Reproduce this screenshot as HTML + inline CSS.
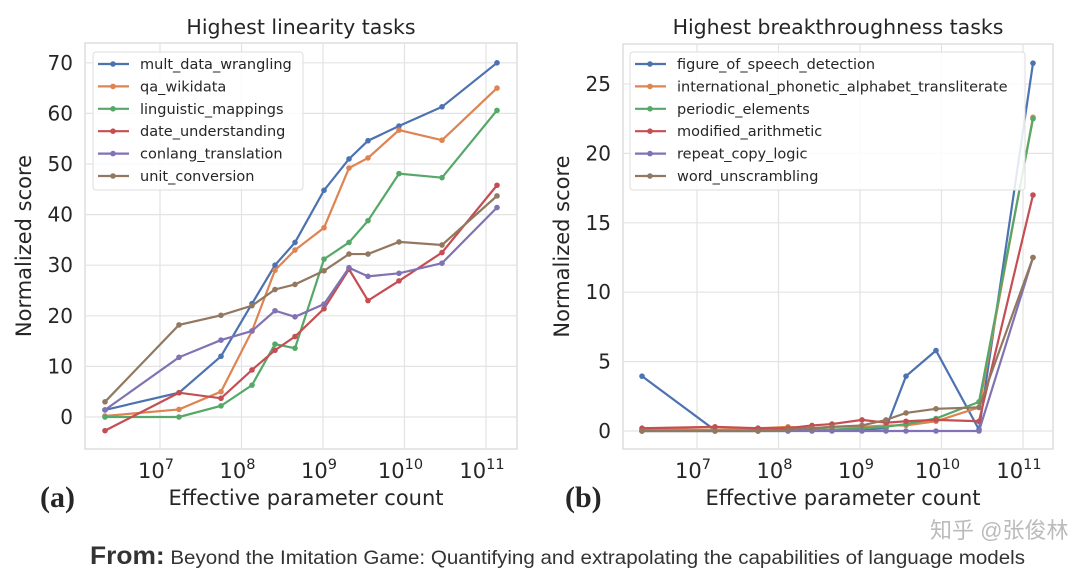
<!DOCTYPE html>
<html><head><meta charset="utf-8"><style>
body{margin:0;background:#fff;width:1080px;height:575px;overflow:hidden}
svg text{font-family:"DejaVu Sans","Liberation Sans",sans-serif;fill:#262626}
</style></head><body>
<svg id="s" width="1080" height="575" xmlns="http://www.w3.org/2000/svg"></svg>
<script>
const C=["#4c72b0","#dd8452","#55a868","#c44e52","#8172b3","#937860"];
let h='';
function T(x,y,t,sz,anc,extra){h+=`<text x="${x}" y="${y}" font-size="${sz}" text-anchor="${anc||'start'}" ${extra||''}>${t}</text>`;}
function panel(o){
 h+=`<rect x="${o.x0}" y="${o.y0}" width="${o.x1-o.x0}" height="${o.y1-o.y0}" fill="#fff" stroke="#d6d6d6" stroke-width="1.2"/>`;
 for(let d=7;d<=11;d++){const x=o.dx(d);h+=`<line x1="${x}" x2="${x}" y1="${o.y0}" y2="${o.y1}" stroke="#e3e3e3" stroke-width="1.2"/>`;
  h+=`<text x="${x-4}" y="${o.y1+29}" font-size="21" text-anchor="middle">10<tspan dy="-9" font-size="14.5">${d}</tspan></text>`;}
 o.yt.forEach(v=>{const y=o.vy(v);h+=`<line x1="${o.x0}" x2="${o.x1}" y1="${y}" y2="${y}" stroke="#e3e3e3" stroke-width="1.2"/>`;T(o.x0-12,y+7,v,20,'end');});
 o.data.forEach((d,i)=>{const p=d.map((v,j)=>[o.px[j],o.vy(v)]);
  h+=`<polyline fill="none" stroke="${C[i]}" stroke-width="2.2" points="${p.map(q=>q.join(',')).join(' ')}"/>`;
  p.forEach(q=>h+=`<circle cx="${q[0]}" cy="${q[1]}" r="2.8" fill="${C[i]}"/>`);});
 h+=`<rect x="${o.lx}" y="52" width="${o.lw}" height="138" rx="3" fill="#fff" fill-opacity="0.85" stroke="#ddd"/>`;
 o.names.forEach((n,i)=>{const y=64+i*22.4;h+=`<line x1="${o.lx+5}" x2="${o.lx+36}" y1="${y}" y2="${y}" stroke="${C[i]}" stroke-width="2.2"/><circle cx="${o.lx+20}" cy="${y}" r="2.8" fill="${C[i]}"/>`;T(o.lx+47,y+5,n,14.5);});
 T((o.x0+o.x1)/2,34,o.title,20.5,'middle');
 T((o.x0+o.x1)/2+5,505,'Effective parameter count',21,'middle');
 h+=`<text transform="translate(${o.x0-54},${(o.y0+o.y1)/2}) rotate(-90)" font-size="21" text-anchor="middle">Normalized score</text>`;
}
const pxA=[105,179,221,252,275,295,324,349,368,399,442,497];
panel({x0:85,x1:517,y0:43,y1:449,dx:d=>160+81.5*(d-7),vy:v=>417-5.06*v,yt:[0,10,20,30,40,50,60,70],px:pxA,lx:93,lw:210,
title:'Highest linearity tasks',names:['mult_data_wrangling','qa_wikidata','linguistic_mappings','date_understanding','conlang_translation','unit_conversion'],
data:[[1.4,4.8,12,22.4,30,34.5,44.8,51,54.6,57.5,61.3,70],
[0.2,1.5,5,17,29,33,37.4,49.2,51.2,56.7,54.7,65],
[0,0,2.2,6.3,14.4,13.6,31.2,34.5,38.8,48.1,47.3,60.6],
[-2.7,4.8,3.7,9.3,13.2,15.9,21.4,29.2,23,26.9,32.5,45.8],
[1.4,11.8,15.2,17,21,19.8,22.3,29.5,27.8,28.4,30.4,41.4],
[3,18.2,20.1,22,25.2,26.2,28.9,32.2,32.2,34.6,34,43.7]]});
const pxB=[642,715,758,788,812,832,862,886,906,936,979,1033];
panel({x0:623,x1:1053,y0:44,y1:449,dx:d=>697+81.5*(d-7),vy:v=>431-13.88*v,yt:[0,5,10,15,20,25],px:pxB,lx:630,lw:395,
title:'Highest breakthroughness tasks',names:['figure_of_speech_detection','international_phonetic_alphabet_transliterate','periodic_elements','modified_arithmetic','repeat_copy_logic','word_unscrambling'],
data:[[3.95,0.05,0.05,0.05,0.05,0.05,0.1,0.2,3.95,5.8,0.1,26.5],
[0.1,0.1,0.2,0.3,0.2,0.3,0.3,0.4,0.4,0.7,1.7,22.6],
[0,0,0,0,0.1,0.1,0.2,0.3,0.5,0.9,2.1,22.5],
[0.2,0.3,0.2,0.2,0.4,0.5,0.8,0.6,0.7,0.8,0.7,17],
[0,0,0,0,0,0,0,0,0,0,0,12.5],
[0,0,0,0.1,0.2,0.3,0.4,0.8,1.3,1.6,1.7,12.5]]});
h+=`<text x="40" y="507" font-size="30" font-weight="bold" style="font-family:'Liberation Serif',serif">(a)</text>`;
h+=`<text x="565" y="507" font-size="30" font-weight="bold" style="font-family:'Liberation Serif',serif">(b)</text>`;
h+=`<text x="930" y="538" font-size="22" style="font-family:'Liberation Sans','Noto Sans CJK SC',sans-serif;fill:#bbb">知乎 @张俊林</text>`;
h+=`<text x="90" y="564" font-size="19.5" style="font-family:'Liberation Sans',sans-serif;fill:#333" textLength="935" lengthAdjust="spacingAndGlyphs"><tspan font-size="25" font-weight="bold">From:</tspan> Beyond the Imitation Game: Quantifying and extrapolating the capabilities of language models</text>`;
document.getElementById('s').innerHTML=h;
</script>
</body></html>
